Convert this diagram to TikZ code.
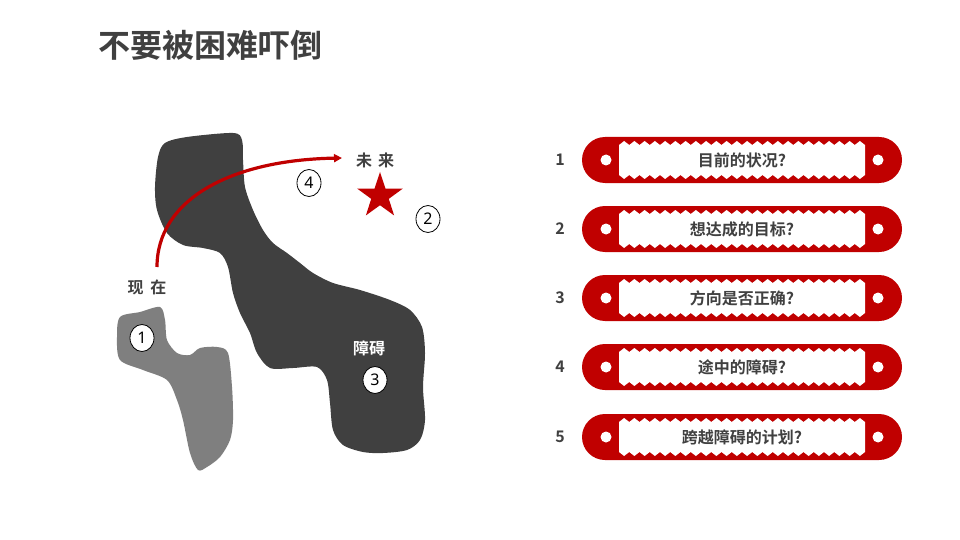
\documentclass[tikz,border=0pt]{standalone}
\usepackage{fontspec}
\setmainfont{Noto Sans CJK SC}[BoldFont={Noto Sans CJK SC Bold}]
\newfontfamily\numfont{Noto Sans}
\usetikzlibrary{shapes.geometric,arrows.meta}
\definecolor{myred}{HTML}{C00000}
\definecolor{dark}{HTML}{404040}
\definecolor{lightg}{HTML}{7F7F7F}
\tikzset{
  ttl/.style={font=\bfseries\fontsize{32}{34}\selectfont, text=dark, inner sep=0pt, anchor=west},
  lbl/.style={font=\bfseries\fontsize{16}{18}\selectfont, text=dark, inner sep=0pt},
  numcirc/.style={ellipse, draw=black, line width=0.8pt, fill=white, minimum width=24pt, minimum height=27pt, inner sep=0pt, font=\numfont\fontsize{16}{18}\selectfont},
  pill/.style={fill=myred, rounded corners=23pt},
  hole/.style={circle, fill=white, minimum size=11pt, inner sep=0pt},
  rtext/.style={font=\bfseries\fontsize{16}{18}\selectfont, text=dark, inner sep=0pt},
  rnum/.style={font=\bfseries\fontsize{16}{18}\selectfont, text=dark, inner sep=0pt},
}
\newcommand{\myribbon}[3]{%
  \fill[pill] (582,#1-23) rectangle (902,#1+23);
  \fill[white] (619,#1-15)
    \foreach \k in {0,...,23}{ -- ({619+(\k+0.5)*10.25},#1-19) -- ({619+(\k+1)*10.25},#1-15)}
    -- (865,#1+15)
    \foreach \k in {0,...,23}{ -- ({865-(\k+0.5)*10.25},#1+19) -- ({865-(\k+1)*10.25},#1+15)}
    -- cycle;
  \node[hole] (hl#2) at (606,#1) {};
  \node[hole] (hr#2) at (878,#1) {};
  \node[rtext] (rt#2) at (742,#1) {#3};
  \node[rnum] (rn#2) at (560,#1) {#2};
}
\begin{document}
\begin{tikzpicture}[x=1pt,y=-1pt]
\useasboundingbox (0,0) rectangle (960,540);
\fill[white] (0,0) rectangle (960,540);
\node[ttl] (title) at (98,45) {不要被困难吓倒};

% big dark blob
\fill[dark] plot[smooth cycle, tension=0.5] coordinates {
(165,143) (187,137) (233,133) (242,140) (243,160) (245,187) (253,210) (263,230)
(273,243) (287,253) (300,263) (313,273) (333,283) (360,290) (390,300) (410,310)
(422,327) (425,353) (423,387) (425,420) (420,440) (407,450) (383,453) (363,452)
(343,445) (333,430) (330,403) (327,380) (317,367) (293,368) (270,368) (257,353)
(250,333) (240,313) (233,293) (228,267) (220,253) (203,248) (183,245) (167,233)
(157,210) (155,187) (158,157)};

% light blob
\fill[lightg] plot[smooth cycle, tension=0.5] coordinates {
(120,317) (140,312) (160,307) (165,320) (167,340) (177,353) (190,355) (200,348)
(217,347) (228,353) (232,387) (233,420) (230,440) (220,457) (207,467) (198,470)
(190,453) (183,420) (177,400) (167,380) (143,370) (120,360) (117,337)};

% labels
\node[lbl] (now) at (147,287) {现\hspace{7pt}在};
\node[lbl] (future) at (375,160) {未\hspace{6pt}来};
\node[lbl, text=white] (obst) at (369,348) {障碍};
\node[star, star points=5, star point ratio=2.6, fill=myred, minimum size=48pt, inner sep=0pt] (star) at (380,196) {};

% arrow
\coordinate (arrS) at (157,267);
\coordinate (arrE) at (342,158);
\draw[myred, line width=3.2pt, -{Triangle[length=8pt,width=8pt]}] (arrS) .. controls (157,200) and (230,160) .. (arrE);

% numbered circles
\node[numcirc] (c1) at (142,338) {1};
\node[numcirc] (c2) at (428,219) {2};
\node[numcirc] (c3) at (375,380) {3};
\node[numcirc] (c4) at (309,183) {4};

% ribbons
\myribbon{160}{1}{目前的状况?}
\myribbon{229}{2}{想达成的目标?}
\myribbon{298}{3}{方向是否正确?}
\myribbon{367}{4}{途中的障碍?}
\myribbon{437}{5}{跨越障碍的计划?}
\end{tikzpicture}
\end{document}
